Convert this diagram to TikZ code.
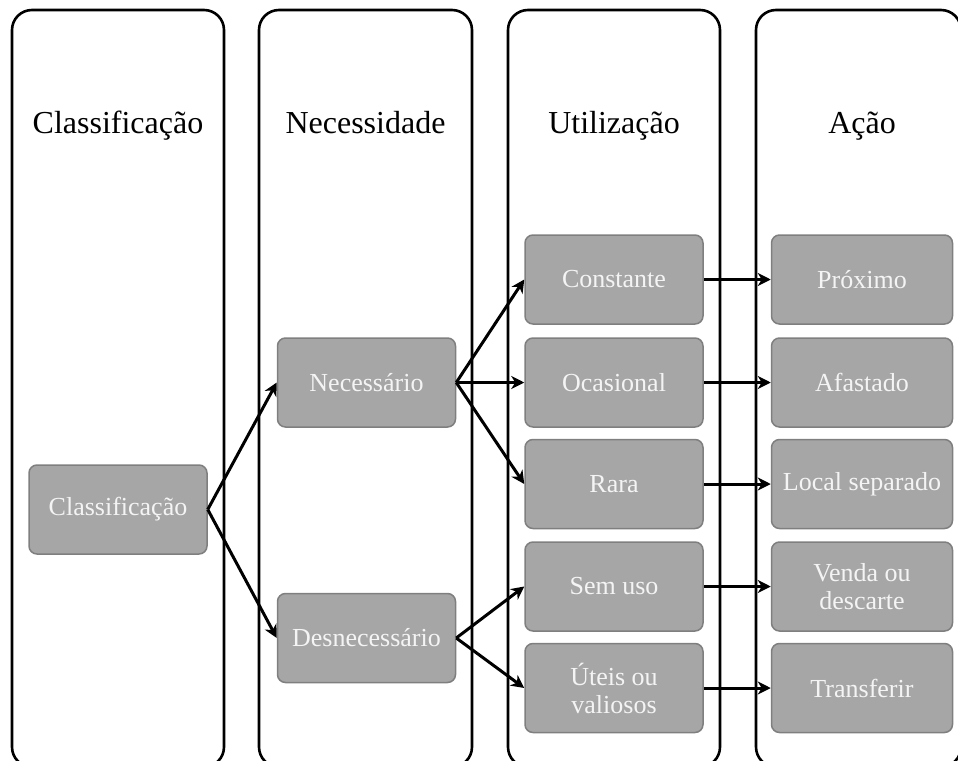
\documentclass[tikz,border=0pt]{standalone}
\usepackage{fontspec}
\setmainfont{Liberation Serif}
\usetikzlibrary{arrows.meta}
\definecolor{boxfill}{HTML}{A6A6A6}
\definecolor{boxline}{HTML}{7F7F7F}
\definecolor{boxtext}{HTML}{F4F4F4}
\tikzset{
  column/.style={draw=black, line width=2.6pt, rounded corners=20pt},
  header/.style={anchor=base, font=\fontsize{32}{38}\selectfont},
  gbox/.style={draw=boxline, fill=boxfill, line width=1.5pt, rounded corners=8pt,
    minimum width=178pt, minimum height=89pt, inner sep=0pt, align=center,
    text=boxtext, font=\fontsize{26}{28}\selectfont},
  abox/.style={gbox, minimum width=181pt},
  conn/.style={draw=black, line width=3pt, -{Stealth[length=13pt,width=13pt,inset=4pt]}},
}
\begin{document}
\begin{tikzpicture}[x=1pt,y=-1pt]
\useasboundingbox (0,0) rectangle (958,760);
\clip (0,0) rectangle (958,760);
% columns
\draw[column] (12,10) rectangle (224,767);
\draw[column] (259,10) rectangle (472,767);
\draw[column] (508,10) rectangle (720,767);
\draw[column] (756,10) rectangle (961,767);
% headers
\node[header] (h1) at (118,133) {Classificação};
\node[header] (h2) at (365.5,133) {Necessidade};
\node[header] (h3) at (614,133) {Utilização};
\node[header] (h4) at (862,133) {Ação};
% boxes
\node[gbox] (cls) at (118,509.5) {Classificação};
\node[gbox] (nec) at (366.5,382.5) {Necessário};
\node[gbox] (des) at (366.5,638) {Desnecessário};
\node[gbox] (con) at (614,279.5) {Constante};
\node[gbox] (oca) at (614,382.5) {Ocasional};
\node[gbox] (rar) at (614,484) {Rara};
\node[gbox] (sem) at (614,586.5) {Sem uso};
\node[gbox] (ute) at (614,688) {Úteis ou\\valiosos};
\node[abox] (pro) at (862,279.5) {Próximo};
\node[abox] (afa) at (862,382.5) {Afastado};
\node[abox] (loc) at (862,484) {Local separado};
\node[abox] (ven) at (862,586.5) {Venda ou\\descarte};
\node[abox] (tra) at (862,688) {Transferir};
% connectors
\draw[conn] (cls.east) -- (nec.west);
\draw[conn] (cls.east) -- (des.west);
\draw[conn] (nec.east) -- (con.west);
\draw[conn] (nec.east) -- (oca.west);
\draw[conn] (nec.east) -- (rar.west);
\draw[conn] (des.east) -- (sem.west);
\draw[conn] (des.east) -- (ute.west);
\draw[conn] (con.east) -- (pro.west);
\draw[conn] (oca.east) -- (afa.west);
\draw[conn] (rar.east) -- (loc.west);
\draw[conn] (sem.east) -- (ven.west);
\draw[conn] (ute.east) -- (tra.west);
\end{tikzpicture}
\end{document}
